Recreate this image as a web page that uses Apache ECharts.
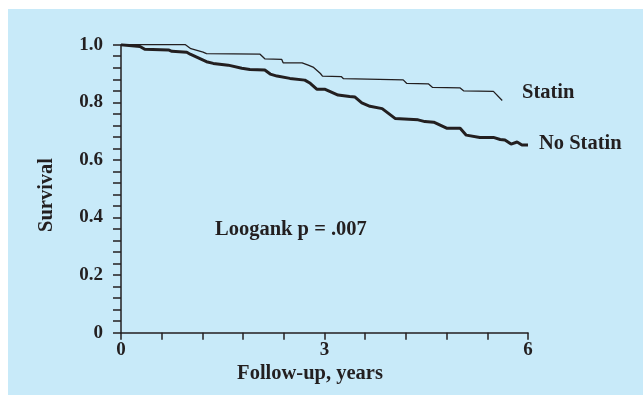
<!DOCTYPE html>
<html>
<head>
<meta charset="utf-8">
<script src="https://cdn.jsdelivr.net/npm/echarts@6/dist/echarts.min.js"></script>
<style>
  html, body { margin: 0; padding: 0; background: #ffffff; }
  #chart { width: 643px; height: 395px; }
</style>
</head>
<body>
<div id="chart"></div>
<script>
// Kaplan-Meier survival estimates: [years, survival]
const statin = [
  [0, 1.0], [0.95, 1.0], [1.03, 0.986], [1.21, 0.974], [1.26, 0.969],
  [2.05, 0.967], [2.12, 0.951], [2.37, 0.949], [2.39, 0.937], [2.67, 0.937],
  [2.76, 0.929], [2.84, 0.921], [2.94, 0.900], [2.97, 0.891], [3.25, 0.889],
  [3.28, 0.882], [4.16, 0.878], [4.21, 0.866], [4.53, 0.864], [4.59, 0.852],
  [5.0, 0.850], [5.05, 0.840], [5.49, 0.838], [5.62, 0.806]
];
const noStatin = [
  [0, 1.0], [0.28, 0.994], [0.35, 0.984], [0.70, 0.982], [0.75, 0.977],
  [0.97, 0.974], [1.02, 0.967], [1.26, 0.941], [1.36, 0.935], [1.58, 0.929],
  [1.78, 0.918], [1.90, 0.914], [2.12, 0.912], [2.20, 0.898], [2.30, 0.891],
  [2.49, 0.883], [2.71, 0.877], [2.79, 0.866], [2.89, 0.845], [3.01, 0.845],
  [3.20, 0.825], [3.37, 0.820], [3.45, 0.818], [3.55, 0.798], [3.67, 0.786],
  [3.85, 0.778], [4.04, 0.744], [4.38, 0.739], [4.48, 0.733], [4.61, 0.731],
  [4.80, 0.710], [5.0, 0.710], [5.09, 0.686], [5.29, 0.678], [5.49, 0.678],
  [5.59, 0.671], [5.66, 0.669], [5.75, 0.655], [5.84, 0.662], [5.91, 0.652],
  [6.0, 0.652]
];
const xLabelValues = [0, 3, 6];
const yLabelValues = [0, 0.2, 0.4, 0.6, 0.8, 1.0];
const yLabelTexts = ['0', '0.2', '0.4', '0.6', '0.8', '1.0'];
const seriesNames = ['Statin', 'No Statin'];
const annotation = 'Loogank p = .007';
const xTitle = 'Follow-up, years';
const yTitle = 'Survival';

const ink = '#231f20';
const font = 'Liberation Serif';

function near(a, b) { return Math.abs(a - b) < 1e-6; }

const chart = echarts.init(document.getElementById('chart'), null, { renderer: 'canvas' });
chart.setOption({
  animation: false,
  backgroundColor: '#ffffff',
  grid: { left: 121, right: 115, top: 44.7, bottom: 62.3, containLabel: false },
  graphic: [
    { type: 'rect', z: -10, silent: true,
      shape: { x: 8, y: 9, width: 643, height: 395 },
      style: { fill: '#c8eaf9' } },
    { type: 'text', x: 47, y: 195, rotation: Math.PI / 2,
      style: { text: yTitle, font: 'bold 20.5px "' + font + '"', fill: ink,
               align: 'center', verticalAlign: 'middle' } },
    { type: 'text', x: 310, y: 374,
      style: { text: xTitle, font: 'bold 20.5px "' + font + '"', fill: ink,
               align: 'center', verticalAlign: 'middle' } },
    { type: 'text', x: 522, y: 93,
      style: { text: seriesNames[0], font: 'bold 20.5px "' + font + '"', fill: ink,
               align: 'left', verticalAlign: 'middle' } },
    { type: 'text', x: 539, y: 144,
      style: { text: seriesNames[1], font: 'bold 20.5px "' + font + '"', fill: ink,
               align: 'left', verticalAlign: 'middle' } },
    { type: 'text', x: 215, y: 230,
      style: { text: annotation, font: 'bold 20.5px "' + font + '"', fill: ink,
               align: 'left', verticalAlign: 'middle' } }
  ],
  xAxis: {
    type: 'value', min: 0, max: 6, interval: 0.6,
    splitLine: { show: false },
    axisLine: { show: true, lineStyle: { color: ink, width: 1.5 } },
    axisTick: { show: true, inside: false, length: 7, lineStyle: { color: ink, width: 1.5 } },
    axisLabel: {
      margin: 8, color: ink, fontFamily: font, fontWeight: 'bold', fontSize: 19,
      formatter: function (v) {
        for (const xv of xLabelValues) if (near(v, xv)) return String(xv);
        return '';
      }
    }
  },
  yAxis: {
    type: 'value', min: 0, max: 1, interval: 0.04,
    splitLine: { show: false },
    axisLine: { show: true, lineStyle: { color: ink, width: 1.5 } },
    axisTick: { show: true, inside: false, length: 8, lineStyle: { color: ink, width: 1.5 } },
    axisLabel: {
      margin: 18, color: ink, fontFamily: font, fontWeight: 'bold', fontSize: 19,
      formatter: function (v) {
        for (let i = 0; i < yLabelValues.length; i++) if (near(v, yLabelValues[i])) return yLabelTexts[i];
        return '';
      }
    }
  },
  series: [
    { name: seriesNames[0], type: 'line', data: statin, showSymbol: false,
      lineStyle: { color: ink, width: 1.3 }, z: 3 },
    { name: seriesNames[1], type: 'line', data: noStatin, showSymbol: false,
      lineStyle: { color: ink, width: 3 }, z: 4 }
  ]
});
</script>
</body>
</html>
